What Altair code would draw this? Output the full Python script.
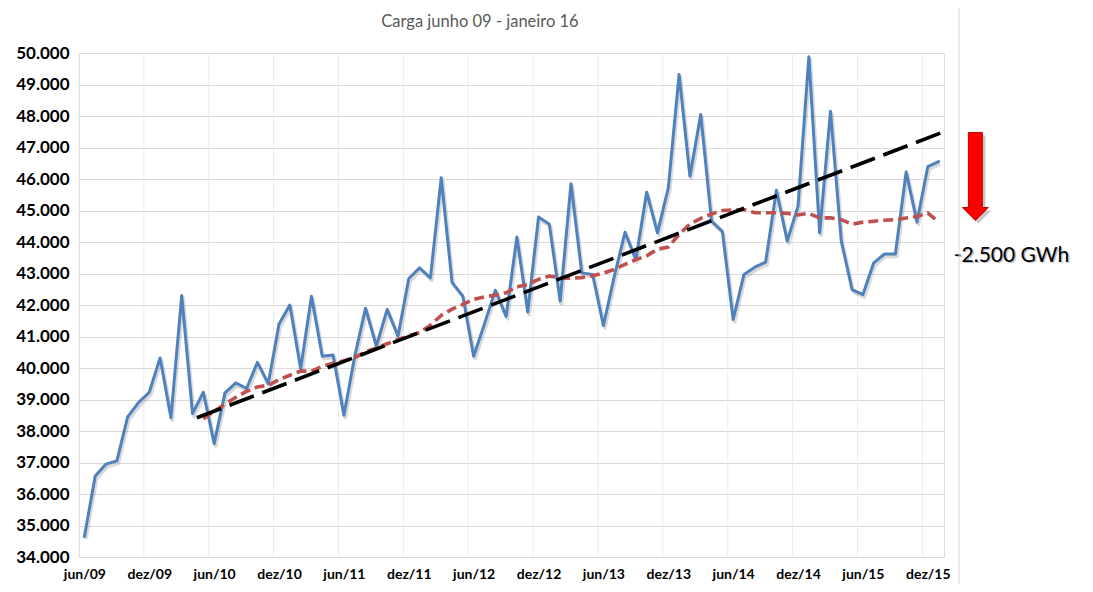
import altair as alt
import pandas as pd

# ---------------- data ----------------
title_text = "Carga junho 09 - janeiro 16"
tick_labels = ["jun/09", "dez/09", "jun/10", "dez/10", "jun/11", "dez/11", "jun/12",
               "dez/12", "jun/13", "dez/13", "jun/14", "dez/14", "jun/15", "dez/15"]

# monthly load, jun/09 .. jan/16 (MW médios)
carga = [34650, 36570, 36950, 37050, 38450, 38900, 39230, 40320, 38420, 42300,
         38550, 39230, 37600, 39210, 39530, 39350, 40180, 39500, 41400, 42000,
         39980, 42280, 40370, 40410, 38500, 40370, 41900, 40690, 41860, 41010,
         42840, 43180, 42860, 46040, 42720, 42280, 40370, 41400, 42470, 41640,
         44160, 41780, 44790, 44560, 42120, 45850, 43020, 42970, 41350, 42900,
         44310, 43440, 45580, 44290, 45720, 49320, 46090, 48050, 44660, 44340,
         41540, 42970, 43200, 43360, 45640, 44030, 45140, 49880, 44290, 48150,
         44030, 42490, 42330, 43340, 43620, 43620, 46220, 44630, 46390, 46550]

# 12-month average line (from mai/10 onwards)
media_start = 11
media_12m = [38390, 38630, 38850, 39070, 39260, 39400, 39450, 39630, 39770, 39900,
             39900, 40050, 40150, 40230, 40320, 40520, 40630, 40770, 40900, 41020,
             41120, 41360, 41670, 41870, 42020, 42180, 42260, 42310, 42390, 42580,
             42650, 42810, 42920, 42860, 42850, 42870, 42930, 43010, 43130, 43290,
             43440, 43560, 43770, 43840, 44240, 44570, 44750, 44890, 45000, 45020,
             45030, 44930, 44930, 44930, 44910, 44860, 44910, 44760, 44770, 44710,
             44560, 44630, 44660, 44690, 44710, 44760, 44810, 44920, 44640]

# linear trend (end points)
trend_x = [10.4, 79.5]
trend_y = [38420, 47500]

annotation_text = "-2.500 GWh"

# annotation placement (in data units)
arrow_pos = (82.4, 46080)
text_pos = (80.4, 43380)
border_x = 80.9

# ---------------- layout / style ----------------
W, H = 865, 504
FONT = "Lato"

df_blue = pd.DataFrame({"x": list(range(len(carga))), "y": carga})
df_red = pd.DataFrame({"x": list(range(media_start, media_start + len(media_12m))), "y": media_12m})
df_trend = pd.DataFrame({"x": trend_x, "y": trend_y})
df_vgrid = pd.DataFrame({"x": [6 * k - 0.5 for k in range(len(tick_labels))]})
df_arrow = pd.DataFrame({"x": [arrow_pos[0]], "y": [arrow_pos[1]]})
df_text = pd.DataFrame({"x": [text_pos[0]], "y": [text_pos[1]], "t": [annotation_text]})
df_border = pd.DataFrame({"x": [border_x]})
df_title = pd.DataFrame({"t": [title_text]})

label_js = "[" + ",".join(f"'{s}'" for s in tick_labels) + "]"
x_axis = alt.Axis(values=[6 * k for k in range(len(tick_labels))],
                  labelExpr=f"{label_js}[round(datum.value/6)]",
                  grid=False, ticks=False, domain=False,
                  labelFont=FONT, labelFontSize=14, labelFontWeight="bold",
                  labelColor="#000000", labelPadding=10, title=None)
x_scale = alt.Scale(domain=[-0.5, len(carga) - 0.5], nice=False, zero=False)
x_enc = alt.X("x:Q", scale=x_scale, axis=x_axis)

y_axis = alt.Axis(values=list(range(34000, 50001, 1000)),
                  labelExpr="replace(format(datum.value, ',.0f'), ',', '.')",
                  grid=True, gridColor="#D9D9D9", gridWidth=1,
                  ticks=False, domain=False,
                  labelFont=FONT, labelFontSize=17, labelFontWeight="bold",
                  labelColor="#000000", labelPadding=10, title=None)
y_scale = alt.Scale(domain=[34000, 50000], nice=False, zero=False)
y_enc = alt.Y("y:Q", scale=y_scale, axis=y_axis)

vgrid = alt.Chart(df_vgrid).mark_rule(color="#EBEBEB", strokeWidth=1).encode(
    x=x_enc, y=alt.value(0), y2=alt.value(H))

blue_shadow = alt.Chart(df_blue).mark_line(
    color="#808080", opacity=0.3, strokeWidth=3.5, xOffset=1.5, yOffset=2.5,
    strokeJoin="round").encode(x=x_enc, y=y_enc)
blue = alt.Chart(df_blue).mark_line(
    color="#4F81BD", strokeWidth=3, strokeJoin="round", strokeCap="round").encode(x=x_enc, y=y_enc)

red = alt.Chart(df_red).mark_line(
    color="#C0504D", strokeWidth=3.6, strokeDash=[10, 5]).encode(x=x_enc, y=y_enc)

trend = alt.Chart(df_trend).mark_line(
    color="#000000", strokeWidth=3.6, strokeDash=[26, 9]).encode(x=x_enc, y=y_enc)

arrow_path = ("M-0.159,-1 L0.159,-1 L0.159,0.705 L0.295,0.705 L0,1 "
              "L-0.295,0.705 L-0.159,0.705 Z")
arrow_shadow = alt.Chart(df_arrow).mark_point(
    shape=arrow_path, size=7744, filled=True, color="#808080", opacity=0.45,
    xOffset=3, yOffset=3).encode(x=x_enc, y=y_enc)
arrow = alt.Chart(df_arrow).mark_point(
    shape=arrow_path, size=7744, filled=True, fill="#FF0000", stroke="#C00000",
    strokeWidth=1, opacity=1).encode(x=x_enc, y=y_enc)

text_shadow = alt.Chart(df_text).mark_text(
    align="left", baseline="alphabetic", font=FONT, fontSize=21, color="#808080",
    opacity=0.5, dx=1.5, dy=1.5).encode(x=x_enc, y=y_enc, text="t:N")
text = alt.Chart(df_text).mark_text(
    align="left", baseline="alphabetic", font=FONT, fontSize=21, color="#000000"
).encode(x=x_enc, y=y_enc, text="t:N")

title_mark = alt.Chart(df_title).mark_text(
    align="center", baseline="alphabetic", font=FONT, fontSize=16.5, color="#595959"
).encode(x=alt.value(401), y=alt.value(-26), text="t:N")

border = alt.Chart(df_border).mark_rule(color="#D9D9D9", strokeWidth=1).encode(
    x=x_enc, y=alt.value(-53), y2=alt.value(H + 35))

chart = alt.layer(
    vgrid, blue_shadow, blue, red, trend, arrow_shadow, arrow, text_shadow, text,
    border, title_mark
).properties(
    width=W, height=H,
    padding={"left": 71, "top": 45, "right": 141, "bottom": 27},
    autosize=alt.AutoSizeParams(type="none"),
).configure_view(stroke=None).configure(background="white")

chart.save("out.html", embed_options={"renderer": "svg", "actions": False})
